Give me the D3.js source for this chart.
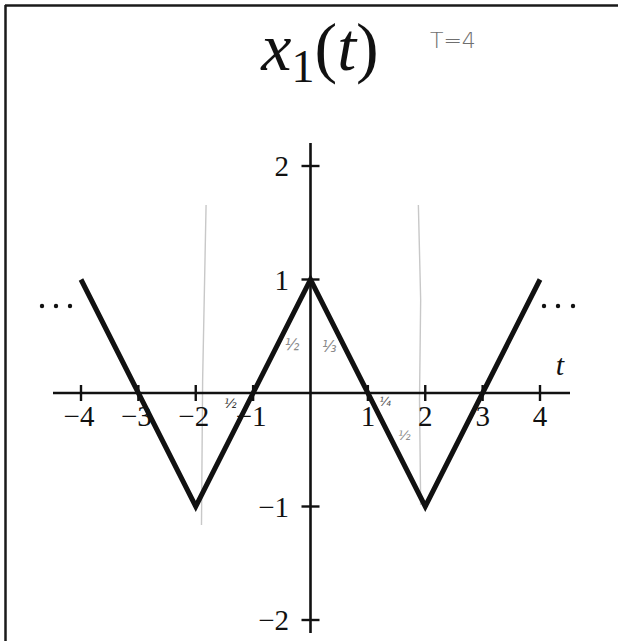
<!DOCTYPE html>
<html>
<head>
<meta charset="utf-8">
<script src="https://cdn.jsdelivr.net/npm/d3@7"></script>
<style>
  html, body { margin: 0; padding: 0; background: #fff; }
  svg { display: block; }
</style>
</head>
<body>
<svg id="chart" width="618" height="641"></svg>
<script>
// Triangle wave x1(t), period T = 4, shown on [-4, 4]
const waveT = [-4, -2, 0, 2, 4];
const waveX = [1, -1, 1, -1, 1];
const xTicks = [-4, -3, -2, -1, 1, 2, 3, 4];
const yTicks = [-2, -1, 1, 2];
const xTickLabels = ["−4", "−3", "−2", "−1", "1", "2", "3", "4"];
const yTickLabels = ["−2", "−1", "1", "2"];

const svg = d3.select("#chart");
const W = 618, H = 641;

const x = d3.scaleLinear().domain([-4, 4]).range([81, 540]);
const y = d3.scaleLinear().domain([-2, 2]).range([620, 166]);

const SERIF = "'Liberation Serif', 'Times New Roman', serif";
const HAND = "'DejaVu Sans', sans-serif";

// page frame (top and left edges)
svg.append("line").attr("x1", 5).attr("x2", W).attr("y1", 5.5).attr("y2", 5.5)
  .attr("stroke", "#1a1a1a").attr("stroke-width", 2.5);
svg.append("line").attr("x1", 5.5).attr("x2", 5.5).attr("y1", 5).attr("y2", H)
  .attr("stroke", "#1a1a1a").attr("stroke-width", 2.5);

// faint pencil guides at t = ±2
const guides = svg.append("g").attr("stroke", "#c8c8c8").attr("stroke-width", 1.4).attr("fill", "none");
guides.append("path").attr("d", `M${x(-1.82)},205 L${x(-1.88)},380 L${x(-1.9)},525`);
guides.append("path").attr("d", `M${x(1.88)},205 L${x(1.92)},300 L${x(1.9)},400 L${x(1.92)},505`);

// pencil fractions
const notes = svg.append("g").style("font-family", HAND).style("font-style", "italic")
  .attr("fill", "#8a8a8a").attr("font-size", 15);
notes.append("text").attr("x", x(-0.45)).attr("y", 350).text("½");
notes.append("text").attr("x", x(0.2)).attr("y", 352).text("⅓");
notes.append("text").attr("x", 224).attr("y", 408).attr("font-size", 13).attr("fill", "#333").text("½");
notes.append("text").attr("x", x(1.2)).attr("y", 406).attr("font-size", 12).attr("fill", "#555").text("¼");
notes.append("text").attr("x", 398).attr("y", 440).attr("font-size", 13).text("½");

// axes
const axisColor = "#111";
svg.append("line").attr("x1", 53).attr("x2", 570).attr("y1", y(0)).attr("y2", y(0))
  .attr("stroke", axisColor).attr("stroke-width", 2.6);
svg.append("line").attr("x1", x(0)).attr("x2", x(0)).attr("y1", 143).attr("y2", 633)
  .attr("stroke", axisColor).attr("stroke-width", 2.6);

// x ticks and labels
svg.append("g").selectAll("line").data(xTicks).join("line")
  .attr("x1", d => x(d)).attr("x2", d => x(d))
  .attr("y1", y(0) - 8).attr("y2", y(0) + 8)
  .attr("stroke", axisColor).attr("stroke-width", 2.4);
svg.append("g").style("font-family", SERIF).selectAll("text").data(xTicks).join("text")
  .attr("x", d => x(d) + (d < 0 ? -2 : 0)).attr("y", 426)
  .attr("text-anchor", "middle")
  .attr("font-size", 29).attr("fill", "#111")
  .text((d, i) => xTickLabels[i]);

// y ticks and labels
svg.append("g").selectAll("line").data(yTicks).join("line")
  .attr("x1", x(0) - 9).attr("x2", x(0) + 9)
  .attr("y1", d => y(d)).attr("y2", d => y(d))
  .attr("stroke", axisColor).attr("stroke-width", 2.4);
svg.append("g").style("font-family", SERIF).selectAll("text").data(yTicks).join("text")
  .attr("x", 289).attr("y", d => y(d) + 10)
  .attr("text-anchor", "end")
  .attr("font-size", 29).attr("fill", "#111")
  .text((d, i) => yTickLabels[i]);

// axis name
svg.append("text").style("font-family", SERIF).style("font-style", "italic")
  .attr("x", 560).attr("y", 375).attr("text-anchor", "middle")
  .attr("font-size", 30).attr("fill", "#111").text("t");

// the waveform
const line = d3.line().x((d, i) => x(waveT[i])).y(d => y(d));
svg.append("path").datum(waveX)
  .attr("d", line)
  .attr("fill", "none").attr("stroke", "#111").attr("stroke-width", 5)
  .attr("stroke-linejoin", "miter").attr("stroke-linecap", "butt");

// continuation dots
const dots = [[42, 306], [56, 306], [70, 306], [544, 306], [558, 306], [573, 306]];
svg.append("g").selectAll("circle").data(dots).join("circle")
  .attr("cx", d => d[0]).attr("cy", d => d[1]).attr("r", 2.2).attr("fill", "#111");

// title x1(t)
const title = svg.append("text").style("font-family", SERIF)
  .attr("x", 320).attr("y", 70).attr("text-anchor", "middle")
  .attr("font-size", 68).attr("fill", "#111");
title.append("tspan").style("font-style", "italic").text("x");
title.append("tspan").attr("font-size", 46).attr("dy", 12).text("1");
title.append("tspan").attr("dy", -12).text("(");
title.append("tspan").style("font-style", "italic").text("t");
title.append("tspan").text(")");

// handwritten period note
svg.append("text").style("font-family", HAND)
  .attr("x", 430).attr("y", 48)
  .attr("font-size", 22).attr("fill", "#6f6f6f").attr("font-weight", 300).text("T=4");
</script>
</body>
</html>
